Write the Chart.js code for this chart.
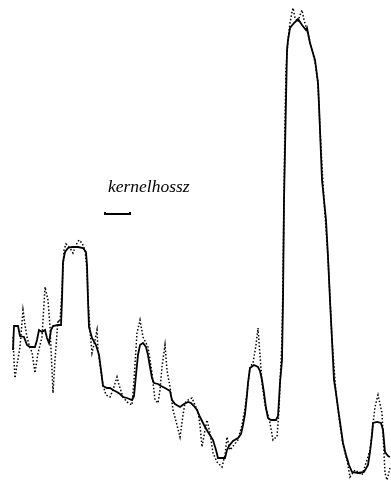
<!DOCTYPE html>
<html>
<head>
<meta charset="utf-8">
<script src="https://cdn.jsdelivr.net/npm/chart.js@4/dist/chart.umd.min.js"></script>
<style>
  html, body { margin: 0; padding: 0; background: #fff; }
  #wrap { position: relative; width: 391px; height: 500px; }
  #label {
    position: absolute; left: 108px; top: 176px;
    font: italic 17.5px "Liberation Serif", "DejaVu Serif", serif;
    color: #000; white-space: nowrap;
  }
</style>
</head>
<body>
<div id="wrap">
  <canvas id="kernel_chart"></canvas>
  <div id="label">kernelhossz</div>
</div>
<script>
// smoothed curve (solid)
const smoothX = [13, 14, 18, 20, 24, 27, 30, 35, 37, 39, 42, 45, 47, 49, 51, 53, 58, 61, 62, 63,
  65, 68, 72, 78, 83, 86, 87, 88, 89, 92, 96, 99, 101, 103, 107, 110, 113, 117, 120, 123,
  127, 132, 134, 136, 138, 140, 143, 146, 148, 150, 152, 154, 158, 161, 165, 170, 172, 175, 180, 184,
  188, 191, 194, 197, 200, 204, 208, 213, 216, 218, 225, 227, 229, 233, 238, 241, 243, 245, 247, 248,
  250, 254, 258, 260, 262, 264, 266, 268, 271, 276, 278, 279, 280, 282, 283, 284, 286, 287, 288, 290,
  294, 298, 302, 306, 307, 310, 315, 318, 319, 320, 321, 322, 324, 326, 328, 330, 332, 334, 336, 338,
  340, 343, 346, 349, 352, 358, 364, 368, 370, 372, 373, 377, 381, 383, 385, 388, 390];
const smoothY = [150, 174, 174, 164, 163, 155, 153, 153, 160, 170, 168, 170, 162, 157, 170, 174, 175, 175, 200, 238,
  248, 252, 253, 253, 252, 248, 235, 200, 173, 162, 155, 145, 130, 114, 112, 112, 110, 108, 106, 103,
  102, 100, 104, 125, 145, 155, 157, 153, 145, 133, 122, 117, 116, 114, 112, 109, 100, 96, 93, 96,
  98, 97, 94, 90, 83, 75, 68, 60, 50, 42, 42, 50, 54, 59, 62, 66, 75, 86, 105, 117,
  132, 135, 133, 129, 120, 107, 92, 82, 80, 80, 84, 100, 117, 140, 200, 300, 400, 450, 460, 472,
  477, 481, 475, 470, 472, 457, 440, 417, 395, 370, 345, 320, 300, 280, 243, 200, 160, 120, 107, 92,
  78, 57, 45, 35, 28, 27, 28, 35, 48, 65, 77, 78, 77, 70, 48, 44, 43];

// raw signal (dotted)
const rawX = [13, 14, 15, 17, 20, 23, 25, 27, 30, 32, 35, 38, 42, 45, 48, 50, 52, 53, 55, 57,
  58, 60, 62, 64, 66, 70, 73, 76, 79, 82, 85, 87, 88, 90, 92, 95, 97, 98, 100, 103,
  106, 110, 113, 117, 119, 123, 127, 132, 134, 137, 140, 143, 146, 148, 150, 152, 155, 158, 160, 162,
  165, 167, 170, 173, 177, 180, 183, 185, 188, 192, 195, 198, 200, 202, 205, 207, 210, 213, 217, 222,
  225, 227, 230, 234, 238, 242, 245, 248, 250, 253, 256, 258, 260, 262, 265, 268, 270, 273, 275, 277,
  279, 280, 282, 283, 284, 285, 286, 288, 290, 292, 293, 295, 298, 300, 302, 304, 307, 310, 315, 318,
  320, 324, 328, 332, 336, 340, 343, 347, 350, 355, 358, 362, 367, 370, 375, 378, 382, 385, 387, 390];
const rawY = [163, 140, 122, 135, 153, 190, 175, 163, 152, 148, 127, 147, 163, 213, 200, 173, 130, 107, 140, 167,
  180, 178, 210, 250, 256, 252, 247, 255, 260, 257, 250, 230, 200, 170, 147, 160, 170, 150, 135, 115,
  105, 103, 110, 123, 115, 103, 98, 95, 120, 167, 180, 163, 157, 153, 140, 127, 100, 97, 110, 133,
  155, 130, 113, 90, 75, 63, 85, 97, 100, 102, 95, 88, 75, 53, 70, 80, 67, 47, 38, 33,
  45, 63, 50, 55, 60, 75, 92, 115, 133, 137, 155, 172, 145, 117, 95, 85, 77, 60, 62, 63,
  90, 117, 160, 220, 300, 380, 430, 460, 477, 488, 492, 482, 478, 485, 490, 480, 470, 458, 438, 417,
  370, 300, 243, 160, 107, 75, 55, 40, 23, 30, 28, 25, 40, 50, 93, 105, 87, 27, 20, 32];

// scale bar: kernel length in x units
const kernelStart = 105;
const kernelLength = 25;
const kernelLevel = 286;

const toPoints = (xs, ys) => xs.map((x, i) => ({ x: x, y: ys[i] }));

const kernelBar = {
    id: 'kernelBar',
    afterDatasetsDraw(chart) {
        const c = chart.ctx;
        const sx = chart.scales.x;
        const sy = chart.scales.y;
        const x0 = sx.getPixelForValue(kernelStart);
        const x1 = sx.getPixelForValue(kernelStart + kernelLength);
        const y = sy.getPixelForValue(kernelLevel);
        c.save();
        c.strokeStyle = '#000';
        c.lineWidth = 2;
        c.beginPath();
        c.moveTo(x0, y - 2);
        c.lineTo(x0, y);
        c.lineTo(x1, y);
        c.lineTo(x1, y - 2);
        c.stroke();
        c.restore();
    }
};

const ctx = document.getElementById('kernel_chart').getContext('2d');

const kernelChart = new Chart(ctx, {
    type: 'line',
    data: {
        datasets: [{
            data: toPoints(rawX, rawY),
            borderColor: '#000',
            borderWidth: 1.5,
            borderDash: [1.5, 2],
            pointRadius: 0,
            tension: 0
        }, {
            data: toPoints(smoothX, smoothY),
            borderColor: '#000',
            borderWidth: 1.8,
            pointRadius: 0,
            tension: 0
        }]
    },
    options: {
        responsive: true,
        maintainAspectRatio: false,
        animation: false,
        layout: { padding: 0 },
        plugins: { legend: { display: false }, tooltip: { enabled: false } },
        scales: {
            x: { type: 'linear', min: 0, max: 391, display: false },
            y: { type: 'linear', min: 0, max: 500, display: false }
        }
    },
    plugins: [kernelBar]
});
</script>
</body>
</html>
